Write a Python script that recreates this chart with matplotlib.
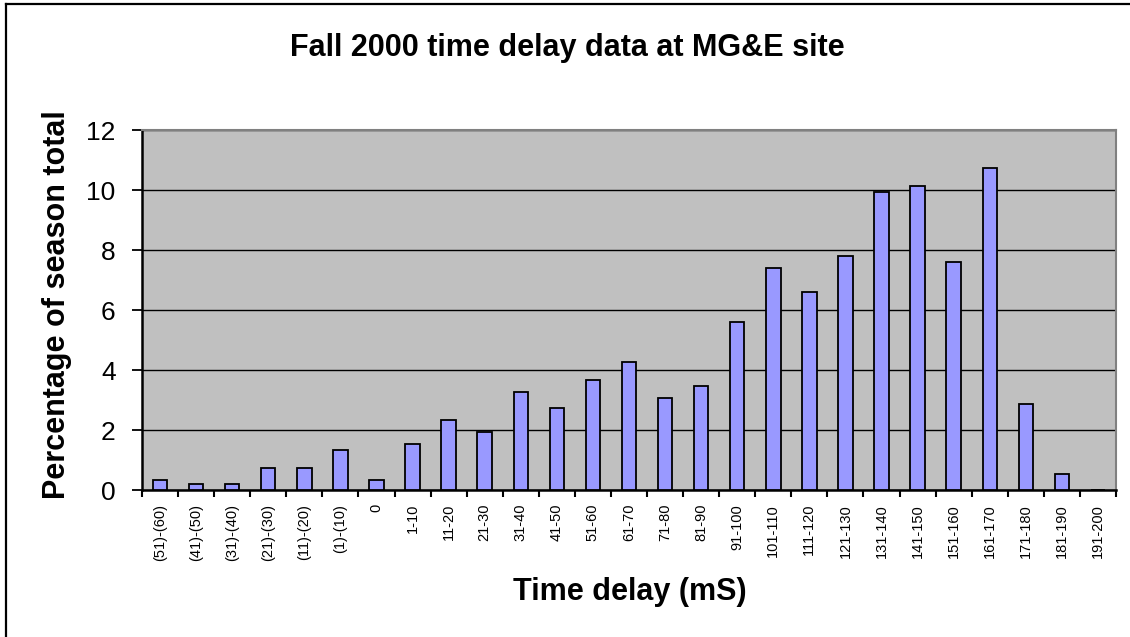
import matplotlib
matplotlib.use("Agg")
import matplotlib.pyplot as plt
from matplotlib.lines import Line2D
import numpy as np

categories = ["(51)-(60)", "(41)-(50)", "(31)-(40)", "(21)-(30)", "(11)-(20)", "(1)-(10)",
              "0", "1-10", "11-20", "21-30", "31-40", "41-50", "51-60", "61-70", "71-80",
              "81-90", "91-100", "101-110", "111-120", "121-130", "131-140", "141-150",
              "151-160", "161-170", "171-180", "181-190", "191-200"]
values = [0.33, 0.19, 0.19, 0.72, 0.72, 1.32, 0.33, 1.53, 2.32, 1.92, 3.26, 2.72, 3.66,
          4.26, 3.06, 3.46, 5.59, 7.39, 6.59, 7.79, 9.92, 10.12, 7.59, 10.72, 2.86, 0.52, 0.0]
yticks = [0, 2, 4, 6, 8, 10, 12]

title = "Fall 2000 time delay data at MG&E site"
xlabel = "Time delay (mS)"
ylabel = "Percentage of season total"

plt.rcParams['font.family'] = ['Liberation Sans', 'DejaVu Sans']

W, H = 1130, 637
fig = plt.figure(figsize=(W / 100, H / 100), dpi=100)
fig.patch.set_facecolor("white")

ax = fig.add_axes([142 / W, 1 - 490 / H, (1116 - 142) / W, (490 - 130) / H])
ax.set_facecolor("#C0C0C0")

x = np.arange(len(categories))
ax.bar(x, values, width=0.4, color="#9999FF", edgecolor="black", linewidth=1.3, zorder=3)

ax.set_xlim(-0.5, len(categories) - 0.5)
ax.set_ylim(0, 12)
ax.set_yticks(yticks)
ax.set_yticklabels([str(v) for v in yticks], fontsize=19)
ax.yaxis.grid(True, color="black", linewidth=1.0, zorder=1)
ax.set_axisbelow(True)

# x ticks at category boundaries, labels at centers
ax.set_xticks(np.arange(len(categories) + 1) - 0.5)
ax.set_xticklabels([])
ax.set_xticks(x, minor=True)
ax.set_xticklabels(categories, minor=True, rotation=90, fontsize=10.5, va="top", ha="center")
ax.tick_params(axis="x", which="major", direction="out", length=5, width=1.5, color="black")
ax.tick_params(axis="x", which="minor", length=0, pad=10)
ax.tick_params(axis="y", direction="out", length=7, width=1.3, pad=12, color="black")

for s in ["left", "bottom"]:
    ax.spines[s].set_color("black")
    ax.spines[s].set_linewidth(1.8)
for s in ["top", "right"]:
    ax.spines[s].set_color("#808080")
    ax.spines[s].set_linewidth(1.5)

fig.text(567 / W, 1 - 48 / H, title, fontsize=22, fontweight="bold", ha="center", va="center")
fig.text(630 / W, 1 - 592 / H, xlabel, fontsize=22, fontweight="bold", ha="center", va="center")
fig.text(57 / W, 1 - 305 / H, ylabel, fontsize=22, fontweight="bold", ha="center", va="center",
         rotation=90)

# outer chart border (left and top visible)
fig.add_artist(Line2D([6 / W, 6 / W], [0, 1 - 4 / H], transform=fig.transFigure,
                      color="black", linewidth=1.6))
fig.add_artist(Line2D([6 / W, 1], [1 - 4 / H, 1 - 4 / H], transform=fig.transFigure,
                      color="black", linewidth=1.6))

fig.savefig("out.png", dpi=100, facecolor="white")
